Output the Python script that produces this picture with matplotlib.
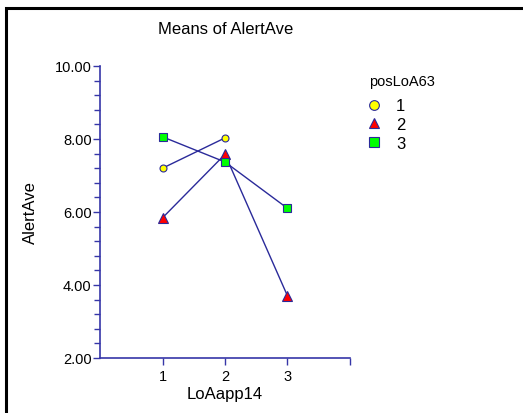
import matplotlib
matplotlib.use("Agg")
import matplotlib.pyplot as plt
from matplotlib.patches import Rectangle
from matplotlib.ticker import MultipleLocator, FixedLocator

plt.rcParams['font.family'] = ['Liberation Sans', 'DejaVu Sans']

x_levels = [1, 2, 3]
groups = ["1", "2", "3"]
means_1 = [7.20, 8.03]          # group 1 only has two levels
means_2 = [5.84, 7.58, 3.70]
means_3 = [8.06, 7.37, 6.10]

navy = "#2a2a9a"
axis_col = "#3636a8"

fig = plt.figure(figsize=(5.23, 4.14), dpi=100)
# outer frame
fig.patches.append(Rectangle((6 / 523, -0.02), 1.1, (414 - 9) / 414 + 0.02,
                             transform=fig.transFigure, fill=False,
                             edgecolor="black", linewidth=2.2))

ax = fig.add_axes([100 / 523, (414 - 359) / 414, 250 / 523, 292 / 414])
ax.set_xlim(0, 4)
ax.set_ylim(2, 10)

ax.plot(x_levels[:2], means_1, color=navy, lw=1, marker="o", ms=5,
        mfc="#ffff00", mec=navy, mew=0.8, label=groups[0])
ax.plot(x_levels, means_2, color=navy, lw=1, marker="^", ms=6.5,
        mfc="#ff0000", mec=navy, mew=0.8, label=groups[1])
ax.plot(x_levels, means_3, color=navy, lw=1, marker="s", ms=5.5,
        mfc="#00ff00", mec=navy, mew=0.8, label=groups[2])

for s in ["top", "right"]:
    ax.spines[s].set_visible(False)
for s in ["left", "bottom"]:
    ax.spines[s].set_color(axis_col)
    ax.spines[s].set_linewidth(1.2)

ax.yaxis.set_major_locator(MultipleLocator(2))
ax.yaxis.set_minor_locator(MultipleLocator(0.4))
ax.yaxis.set_major_formatter(lambda v, p: f"{v:.2f}")
ax.xaxis.set_major_locator(FixedLocator([1, 2, 3, 4]))
ax.xaxis.set_major_formatter(lambda v, p: f"{int(v)}" if v < 4 else "")
ax.tick_params(axis="both", which="both", color=axis_col, direction="out",
               labelsize=10.5, labelcolor="black")
ax.tick_params(axis="y", which="major", length=5, width=1, pad=1)
ax.tick_params(axis="y", which="minor", length=4, width=1)
ax.tick_params(axis="x", which="major", length=5, width=1, pad=3)

ax.set_xlabel("LoAapp14", fontsize=12, labelpad=2)
ax.set_ylabel("AlertAve", fontsize=12, labelpad=12)
fig.text(226 / 523, 1 - 30 / 414, "Means of AlertAve", fontsize=12,
         ha="center", va="center")

# legend title placed separately, then the entries
fig.text(369 / 523, 1 - 82 / 414, "posLoA63", fontsize=10.5,
         ha="left", va="center")
leg = ax.legend(loc="upper left",
                bbox_to_anchor=(357 / 523, 1 - 91 / 414),
                bbox_transform=fig.transFigure, frameon=False,
                fontsize=12, handlelength=1.0,
                handletextpad=0.85, labelspacing=0.22, borderpad=0)
for h in leg.legend_handles:
    h.set_linestyle("none")
    h.set_markersize(7)

fig.savefig("out.png", dpi=100)
